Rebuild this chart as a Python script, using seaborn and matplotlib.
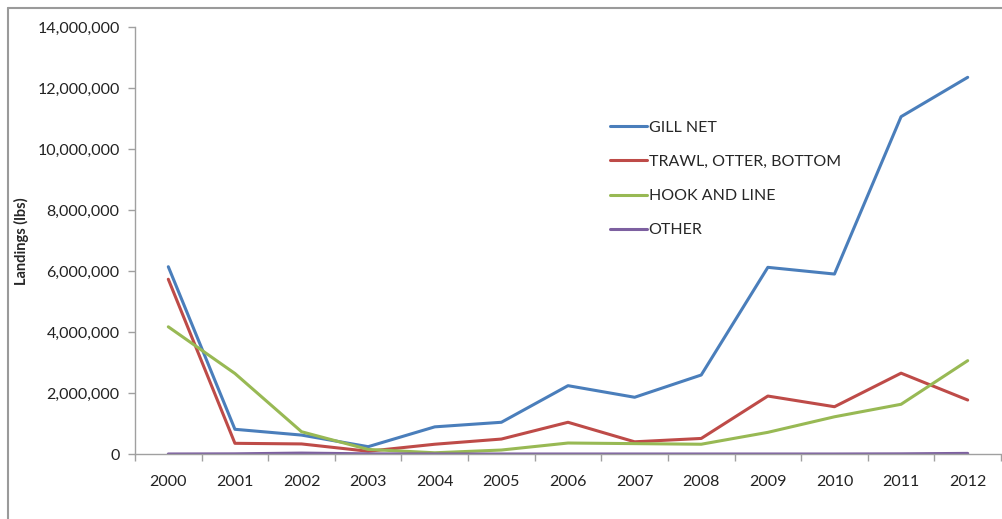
import numpy as np
import matplotlib
matplotlib.use("Agg")
import matplotlib.pyplot as plt
import matplotlib.ticker as mticker
from matplotlib.lines import Line2D
import seaborn as sns
import pandas as pd

YEARS = list(range(2000, 2013))
GILL_NET = [6150000, 820000, 630000, 250000, 900000, 1050000, 2250000,
            1870000, 2600000, 6130000, 5910000, 11070000, 12360000]
TRAWL = [5740000, 360000, 340000, 100000, 330000, 500000, 1050000,
         410000, 520000, 1910000, 1560000, 2660000, 1780000]
HOOK_LINE = [4180000, 2650000, 740000, 160000, 50000, 140000, 370000,
             350000, 330000, 720000, 1230000, 1640000, 3070000]
OTHER = [10000, 15000, 40000, 15000, 10000, 10000, 10000,
         10000, 10000, 10000, 10000, 15000, 30000]

SERIES = ["GILL NET", "TRAWL, OTTER, BOTTOM", "HOOK AND LINE", "OTHER"]
COLORS = ["#4A7EBB", "#BE4B48", "#98B954", "#7D60A0"]

df = pd.DataFrame({"year": YEARS * 4,
                   "lbs": GILL_NET + TRAWL + HOOK_LINE + OTHER,
                   "gear": sum([[s] * len(YEARS) for s in SERIES], [])})

sns.set_theme(style="white")
plt.rcParams["font.family"] = ["Lato", "DejaVu Sans"]

fig = plt.figure(figsize=(10.03, 5.19), dpi=100)
ax = fig.add_axes([135 / 1003, 64.7 / 519, 866 / 1003, 427 / 519])

sns.lineplot(data=df, x="year", y="lbs", hue="gear", hue_order=SERIES,
             palette=COLORS, linewidth=2.2, ax=ax, legend=False)

ax.set_xlim(1999.5, 2012.5)
ax.set_ylim(0, 14000000)
ax.set_xticks(YEARS)
ax.set_xticks(np.arange(1999.5, 2013, 1), minor=True)
ax.set_yticks(np.arange(0, 14000001, 2000000))
ax.yaxis.set_major_formatter(mticker.FuncFormatter(lambda v, p: f"{int(v):,}"))
ax.tick_params(axis="x", which="major", length=0, pad=15, labelsize=11.5,
               labelcolor="#222222")
ax.tick_params(axis="x", which="minor", length=5, color="#a0a0a0", width=1,
               direction="out", bottom=True)
ax.tick_params(axis="y", length=5, color="#a0a0a0", width=1, left=True,
               direction="out", labelsize=11.5, labelcolor="#222222", pad=6)
for side in ["top", "right"]:
    ax.spines[side].set_visible(False)
for side in ["left", "bottom"]:
    ax.spines[side].set_color("#a0a0a0")
    ax.spines[side].set_linewidth(1)
ax.set_xlabel("")
ax.set_ylabel("Landings (lbs)", fontsize=10.5, fontweight="bold")
ax.yaxis.set_label_coords(-106 / 866, 0.5)

handles = [Line2D([0], [0], color=c, lw=2.2) for c in COLORS]
leg = ax.legend(handles, SERIES, loc="upper left",
                bbox_to_anchor=((604 - 135) / 866, (454 - 114) / 427),
                frameon=False, fontsize=11.5, handlelength=2.3,
                handletextpad=0.1, labelspacing=1.25, borderaxespad=0)

# outer chart frame (left and top edges visible)
fig.add_artist(Line2D([8 / 1003, 8 / 1003], [0, 1 - 8 / 519],
                      color="#9a9a9a", lw=1.5, transform=fig.transFigure))
fig.add_artist(Line2D([8 / 1003, 1], [1 - 8 / 519, 1 - 8 / 519],
                      color="#9a9a9a", lw=1.5, transform=fig.transFigure))

fig.savefig("out.png", dpi=100)
